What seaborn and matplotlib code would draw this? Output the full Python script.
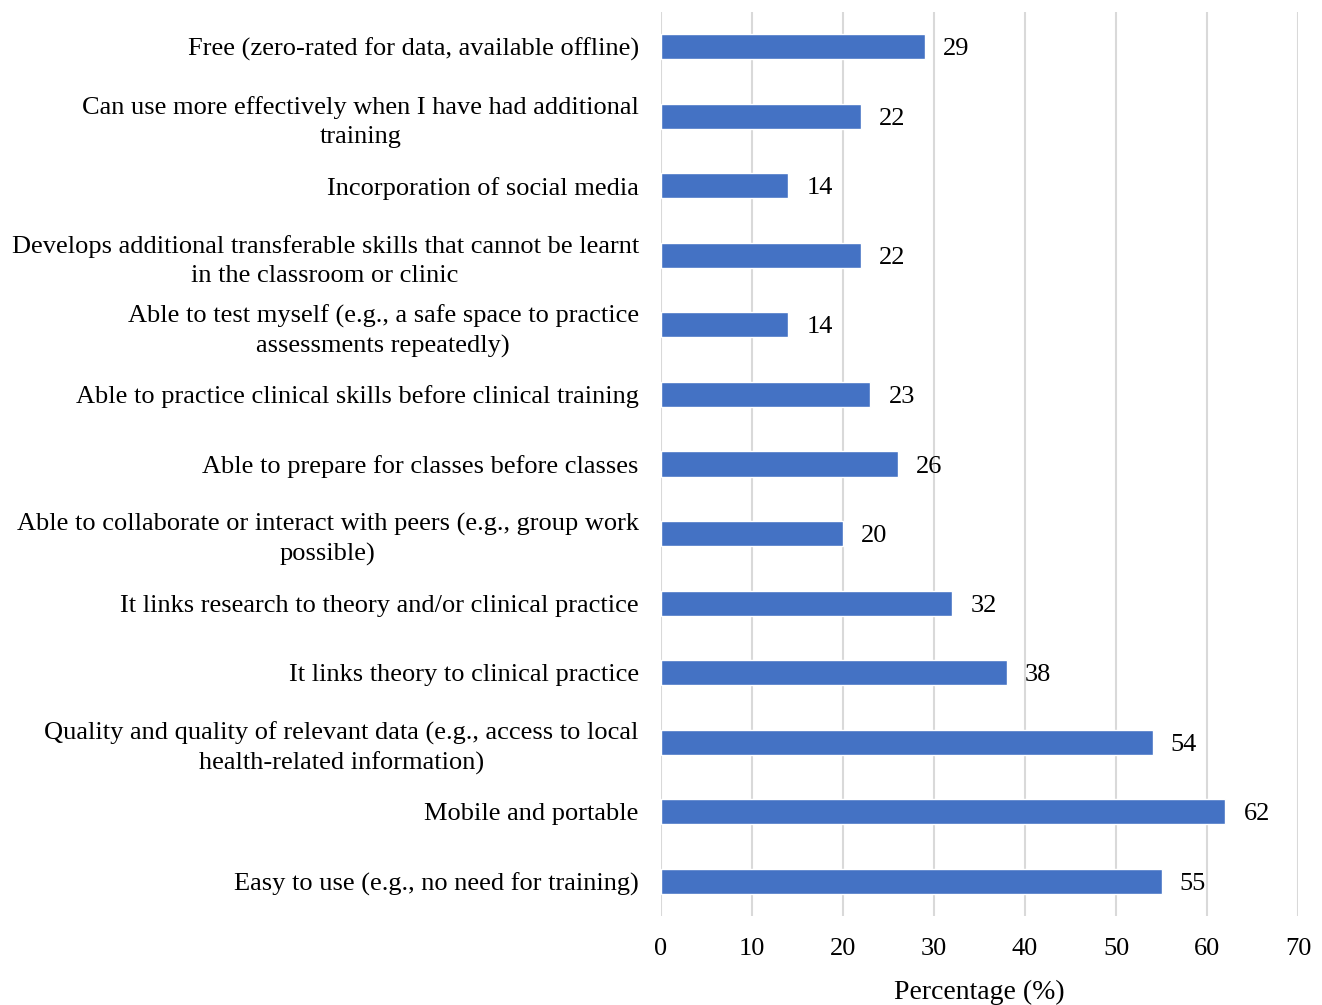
import matplotlib
matplotlib.use("Agg")
import matplotlib.pyplot as plt
import matplotlib.transforms as mtransforms
import seaborn as sns
import pandas as pd

categories = [
    "Free (zero-rated for data, available offline)",
    "Can use more effectively when I have had additional\ntraining",
    "Incorporation of social media",
    "Develops additional transferable skills that cannot be learnt\nin the classroom or clinic",
    "Able to test myself (e.g., a safe space to practice\nassessments repeatedly)",
    "Able to practice clinical skills before clinical training",
    "Able to prepare for classes before classes",
    "Able to collaborate or interact with peers (e.g., group work\npossible)",
    "It links research to theory and/or clinical practice",
    "It links theory to clinical practice",
    "Quality and quality of relevant data (e.g., access to local\nhealth-related information)",
    "Mobile and portable",
    "Easy to use (e.g., no need for training)",
]
percentages = [29, 22, 14, 22, 14, 23, 26, 20, 32, 38, 54, 62, 55]
x_ticks = [0, 10, 20, 30, 40, 50, 60, 70]

sns.set_theme(style="white")
plt.rcParams["font.family"] = ["Liberation Serif", "DejaVu Serif"]

df = pd.DataFrame({"Feature": categories, "Percentage": percentages})

fig = plt.figure(figsize=(13.22, 10.05), dpi=100)
ax = fig.add_axes([0.5, 0.0886, 0.482, 0.8994])

sns.barplot(data=df, y="Feature", x="Percentage", orient="h",
            color="#4472C4", saturation=1, width=0.36, ax=ax, zorder=3)

ax.set_xlim(0, 70)
ax.set_xticks(x_ticks)
ax.grid(axis="x", color="#d9d9d9", linewidth=1.5, zorder=0)
ax.grid(axis="y", visible=False)
for s in ax.spines.values():
    s.set_visible(False)

fs = 19
ax.tick_params(axis="y", length=0, pad=16, labelsize=fs, labelcolor="black")
ax.tick_params(axis="x", length=0, pad=16, labelsize=fs, labelcolor="black")
for lbl in ax.get_yticklabels():
    lbl.set_horizontalalignment("center")
    lbl.set_multialignment("center")
    lbl.set_linespacing(1.4)

ax.set_ylabel("")
ax.set_xlabel("Percentage (%)", fontsize=20, color="black", labelpad=14)

# value labels to the right of each bar
for patch, v in zip(ax.patches, percentages):
    y = patch.get_y() + patch.get_height() / 2
    ax.annotate(f"{v:g}", xy=(patch.get_width(), y), xytext=(13, 0),
                textcoords="offset points", ha="left", va="center_baseline",
                fontsize=fs, color="black")

fig.canvas.draw()
# centre-aligned tick labels need a shifted anchor so their right edges sit by the axis
renderer = fig.canvas.get_renderer()
for lbl in ax.get_yticklabels():
    w = lbl.get_window_extent(renderer).width
    lbl.set_transform(lbl.get_transform() + mtransforms.ScaledTranslation(-w / 2 / fig.dpi, 0, fig.dpi_scale_trans))

fig.savefig("out.png", dpi=100)
